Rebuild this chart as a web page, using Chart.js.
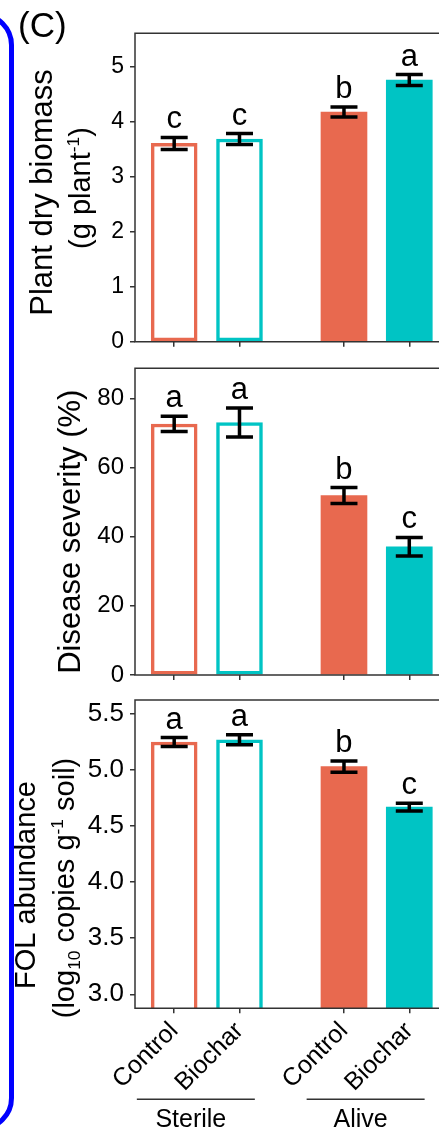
<!DOCTYPE html>
<html><head><meta charset="utf-8">
<script src="https://cdn.jsdelivr.net/npm/chart.js@4.4.1/dist/chart.umd.min.js"></script>
<style>
html,body{margin:0;padding:0;background:#fff;width:439px;height:1130px;overflow:hidden;position:relative;}
.panel{position:absolute;left:0;}
#bracket{position:absolute;left:-52px;top:12px;width:66px;height:1119px;border:5px solid #0000FF;border-radius:40px;box-sizing:border-box;}
</style></head><body>
<div class="panel" style="top:0"><canvas id="c1" width="439" height="350"></canvas></div>
<div class="panel" style="top:350px"><canvas id="c2" width="439" height="335"></canvas></div>
<div class="panel" style="top:685px"><canvas id="c3" width="439" height="445"></canvas></div>
<div id="bracket"></div>
<script>
// ---- data ----
const soils = ['Sterile', 'Sterile', 'Alive', 'Alive'];
const treatments = ['Control', 'Biochar', 'Control', 'Biochar'];
const groupNames = ['Sterile', 'Alive'];
const barX = [1, 2, 3.6, 4.6];

const biomass = [3.60, 3.68, 4.17, 4.75];
const biomassErr = [0.11, 0.10, 0.09, 0.10];
const biomassLetters = ['c', 'c', 'b', 'a'];
const biomassTicks = [0, 1, 2, 3, 4, 5];
const biomassTickLabels = ['0', '1', '2', '3', '4', '5'];

const severity = [72.6, 73.0, 51.9, 37.1];
const severityErr = [2.2, 4.2, 2.3, 2.7];
const severityLetters = ['a', 'a', 'b', 'c'];
const severityTicks = [0, 20, 40, 60, 80];
const severityTickLabels = ['0', '20', '40', '60', '80'];

const fol = [5.25, 5.27, 5.03, 4.67];
const folErr = [0.04, 0.045, 0.05, 0.035];
const folLetters = ['a', 'a', 'b', 'c'];
const folTicks = [3.0, 3.5, 4.0, 4.5, 5.0, 5.5];
const folTickLabels = ['3.0', '3.5', '4.0', '4.5', '5.0', '5.5'];

// ---- style ----
const FONT = '"Liberation Sans", Arial, Helvetica, sans-serif';
const RED = '#E8694F', TEAL = '#00C4C4', INK = '#000000', FRAME = '#333333';

function richRotated(ctx, segs, baseX, centerY, size) {
  ctx.save();
  ctx.translate(baseX, centerY);
  ctx.rotate(-Math.PI / 2);
  ctx.textBaseline = 'alphabetic';
  ctx.textAlign = 'left';
  ctx.fillStyle = INK;
  const parts = segs.map(s => {
    const fs = (s.sup || s.sub) ? size * 0.6 : size;
    ctx.font = fs + 'px ' + FONT;
    return { s, fs, w: ctx.measureText(s.t).width };
  });
  const total = parts.reduce((a, p) => a + p.w, 0);
  let xx = -total / 2;
  parts.forEach(p => {
    ctx.font = p.fs + 'px ' + FONT;
    const dy = p.s.sup ? -size * 0.38 : (p.s.sub ? size * 0.2 : 0);
    ctx.fillText(p.s.t, xx, dy);
    xx += p.w;
  });
  ctx.restore();
}

const panelPlugin = {
  id: 'panelDecor',
  afterDatasetsDraw(chart, args, opts) {
    const { ctx, chartArea: a, scales: { x, y } } = chart;
    ctx.save();
    ctx.strokeStyle = FRAME;
    ctx.lineWidth = 1.5;
    ctx.beginPath();
    ctx.moveTo(a.right + 2, a.top);
    ctx.lineTo(a.left, a.top);
    ctx.lineTo(a.left, a.bottom);
    ctx.lineTo(a.right + 2, a.bottom);
    ctx.stroke();
    ctx.strokeStyle = INK;
    ctx.lineWidth = 3.5;
    ctx.fillStyle = INK;
    ctx.font = opts.letterSize + 'px ' + FONT;
    ctx.textAlign = 'center';
    ctx.textBaseline = 'alphabetic';
    opts.values.forEach((v, i) => {
      const px = x.getPixelForValue(barX[i]);
      const hi = y.getPixelForValue(v + opts.errors[i]);
      const lo = y.getPixelForValue(v - opts.errors[i]);
      ctx.beginPath();
      ctx.moveTo(px, lo); ctx.lineTo(px, hi);
      ctx.moveTo(px - 13.5, hi); ctx.lineTo(px + 13.5, hi);
      ctx.moveTo(px - 13.5, lo); ctx.lineTo(px + 13.5, lo);
      ctx.stroke();
      ctx.fillText(opts.letters[i], px, hi - opts.letterGap);
    });
    ctx.restore();
    opts.titles.forEach(t => richRotated(ctx, t.segs, t.x, t.cy, t.size));
    if (opts.extra) opts.extra(chart);
  }
};

function makeChart(id, cfg) {
  return new Chart(document.getElementById(id), {
    type: 'bar',
    data: {
      datasets: [{
        label: cfg.label,
        data: cfg.values.map((v, i) => ({ x: barX[i], y: v })),
        backgroundColor: ['#FFFFFF', '#FFFFFF', RED, TEAL],
        borderColor: [RED, TEAL, RED, TEAL],
        borderWidth: [3.5, 3.5, 0, 0],
        borderSkipped: false,
        barThickness: 46
      }]
    },
    options: {
      responsive: false,
      animation: false,
      devicePixelRatio: 1,
      layout: { padding: { top: cfg.padTop, left: 0, right: 0, bottom: 0 } },
      plugins: {
        legend: { display: false },
        tooltip: { enabled: false },
        panelDecor: {
          values: cfg.values, errors: cfg.errors, letters: cfg.letters,
          letterSize: 31, letterGap: 9, titles: cfg.titles, extra: cfg.extra
        }
      },
      scales: {
        x: {
          type: 'linear', min: 0.4, max: 5.055, offset: false,
          afterBuildTicks: s => { s.ticks = barX.map(v => ({ value: v })); },
          afterFit: s => { s.height = cfg.xHeight; s.paddingLeft = 0; s.paddingRight = 0; },
          grid: { offset: false, drawOnChartArea: false, drawTicks: true, tickLength: 5, color: FRAME, lineWidth: 1.5 },
          border: { display: false },
          ticks: {
            display: cfg.showX, autoSkip: false, maxRotation: 45, minRotation: 45, padding: 3,
            color: INK, font: { family: FONT, size: 25 },
            callback: (v, i) => treatments[i]
          }
        },
        y: {
          min: cfg.min, max: cfg.max,
          afterBuildTicks: s => { s.ticks = cfg.ticks.map(v => ({ value: v })); },
          afterFit: s => { s.width = 135; s.paddingTop = 0; s.paddingBottom = 0; },
          grid: { drawOnChartArea: false, drawTicks: true, tickLength: 5, color: FRAME, lineWidth: 1.5 },
          border: { display: false },
          ticks: {
            padding: 6, color: INK, font: { family: FONT, size: cfg.tickSize },
            callback: (v, i) => cfg.tickLabels[i]
          }
        }
      }
    },
    plugins: [panelPlugin]
  });
}

makeChart('c1', {
  label: 'Plant dry biomass', values: biomass, errors: biomassErr, letters: biomassLetters,
  ticks: biomassTicks, tickLabels: biomassTickLabels, min: 0, max: 5.6, tickSize: 23,
  padTop: 33.3, xHeight: 8.3, showX: false,
  titles: [
    { segs: [{ t: 'Plant dry biomass' }], x: 52, cy: 192.5, size: 31 },
    { segs: [{ t: '(g plant' }, { t: '-1', sup: true }, { t: ')' }], x: 90, cy: 188, size: 29 }
  ],
  extra(chart) {
    const ctx = chart.ctx;
    ctx.save();
    ctx.fillStyle = INK;
    ctx.font = '35px ' + FONT;
    ctx.textAlign = 'left';
    ctx.textBaseline = 'alphabetic';
    ctx.fillText('(C)', 18, 37);
    ctx.restore();
  }
});

makeChart('c2', {
  label: 'Disease severity (%)', values: severity, errors: severityErr, letters: severityLetters,
  ticks: severityTicks, tickLabels: severityTickLabels, min: 0, max: 88.7, tickSize: 24,
  padTop: 18.3, xHeight: 10, showX: false,
  titles: [
    { segs: [{ t: 'Disease severity (%)' }], x: 80, cy: 181.7, size: 31 }
  ]
});

makeChart('c3', {
  label: 'FOL abundance', values: fol, errors: folErr, letters: folLetters,
  ticks: folTicks, tickLabels: folTickLabels, min: 2.875, max: 5.625, tickSize: 26,
  padTop: 15, xHeight: 121.7, showX: true,
  titles: [
    { segs: [{ t: 'FOL abundance' }], x: 35, cy: 200, size: 29 },
    { segs: [{ t: '(log' }, { t: '10', sub: true }, { t: ' copies g' }, { t: '-1', sup: true }, { t: ' soil)' }], x: 74, cy: 203, size: 29 }
  ],
  extra(chart) {
    const { ctx, scales: { x } } = chart;
    ctx.save();
    ctx.strokeStyle = FRAME;
    ctx.lineWidth = 1.5;
    ctx.fillStyle = INK;
    ctx.font = '25px ' + FONT;
    ctx.textAlign = 'center';
    ctx.textBaseline = 'alphabetic';
    groupNames.forEach(g => {
      const idx = soils.map((s, i) => s === g ? i : -1).filter(i => i >= 0);
      const c = (x.getPixelForValue(barX[idx[0]]) + x.getPixelForValue(barX[idx[idx.length - 1]])) / 2 - 11;
      ctx.beginPath();
      ctx.moveTo(c - 59, 414.3);
      ctx.lineTo(c + 59, 414.3);
      ctx.stroke();
      ctx.fillText(g, c - 5, 441.5);
    });
    ctx.restore();
  }
});
</script>
</body></html>
